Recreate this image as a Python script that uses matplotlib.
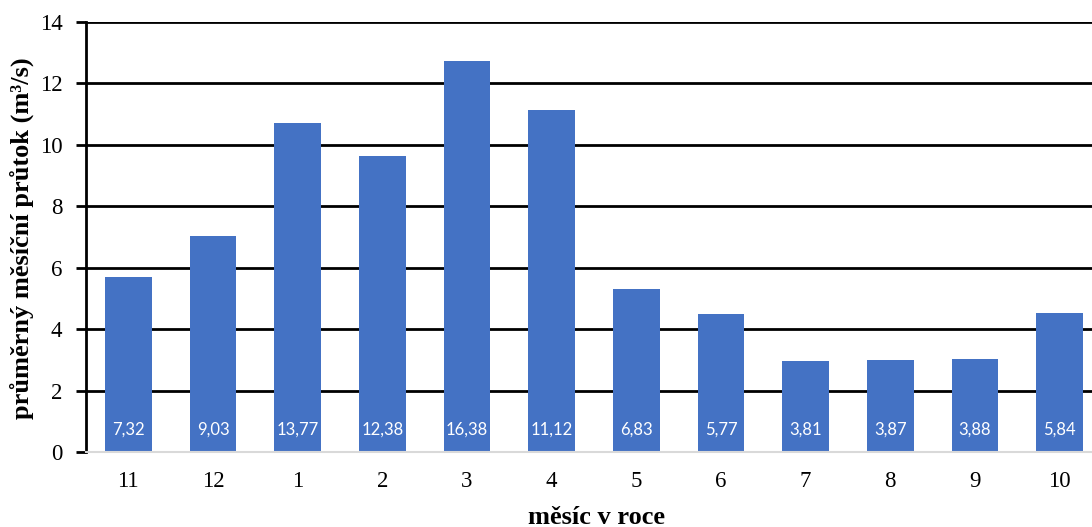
import matplotlib
matplotlib.use("Agg")
import matplotlib.pyplot as plt

months = ["11", "12", "1", "2", "3", "4", "5", "6", "7", "8", "9", "10"]
bar_heights = [5.70, 7.03, 10.71, 9.64, 12.73, 11.14, 5.31, 4.49, 2.96, 3.00, 3.02, 4.53]
bar_labels = ["7,32", "9,03", "13,77", "12,38", "16,38", "11,12",
              "6,83", "5,77", "3,81", "3,87", "3,88", "5,84"]
yticks = [0, 2, 4, 6, 8, 10, 12, 14]

W, H = 1092, 527
fig = plt.figure(figsize=(W / 100, H / 100), dpi=100)
left, right, bottom, top = 86, 1092, 452, 22
ax = fig.add_axes([left / W, 1 - bottom / H, (right - left) / W, (bottom - top) / H])

x = list(range(len(months)))
ax.bar(x, bar_heights, width=0.555, color="#4472C4", zorder=3)
for xi, lab in zip(x, bar_labels):
    ax.text(xi, 0.72, lab, ha="center", va="center", color="white",
            fontsize=12, family="Lato", zorder=4)

ax.set_ylim(0, 14)
ax.set_xlim(-0.5, 11.5 - 10 / 84.7)
ax.set_yticks(yticks)
ax.set_yticklabels([str(v) for v in yticks], family="Liberation Serif", fontsize=16.5)
ax.set_xticks(x)
ax.set_xticklabels(months, family="Liberation Serif", fontsize=16.5)
ax.tick_params(axis="x", length=0, pad=14)
ax.tick_params(axis="y", length=7, width=2, color="black", pad=10, direction="out")

for yv in yticks[1:]:
    ax.axhline(yv, color="black", lw=2, zorder=1)

for s in ["top", "right"]:
    ax.spines[s].set_visible(False)
ax.spines["left"].set_linewidth(2)
ax.spines["left"].set_color("black")
ax.spines["bottom"].set_color("#d9d9d9")
ax.spines["bottom"].set_linewidth(1.5)
ax.spines["bottom"].set_zorder(5)

ax.set_ylabel("průměrný měsíční průtok (m³/s)", family="Liberation Serif",
              fontsize=19, fontweight="bold")
ax.yaxis.set_label_coords(-(86 - 22) / (right - left), (452 - 238) / (bottom - top))
ax.yaxis.label.set_va("center")
ax.set_xlabel("měsíc v roce", family="Liberation Serif", fontsize=19, fontweight="bold")
ax.xaxis.set_label_coords((597 - left) / (right - left), -(517 - bottom) / (bottom - top))
ax.xaxis.label.set_va("center")

fig.savefig("out.png", dpi=100)
